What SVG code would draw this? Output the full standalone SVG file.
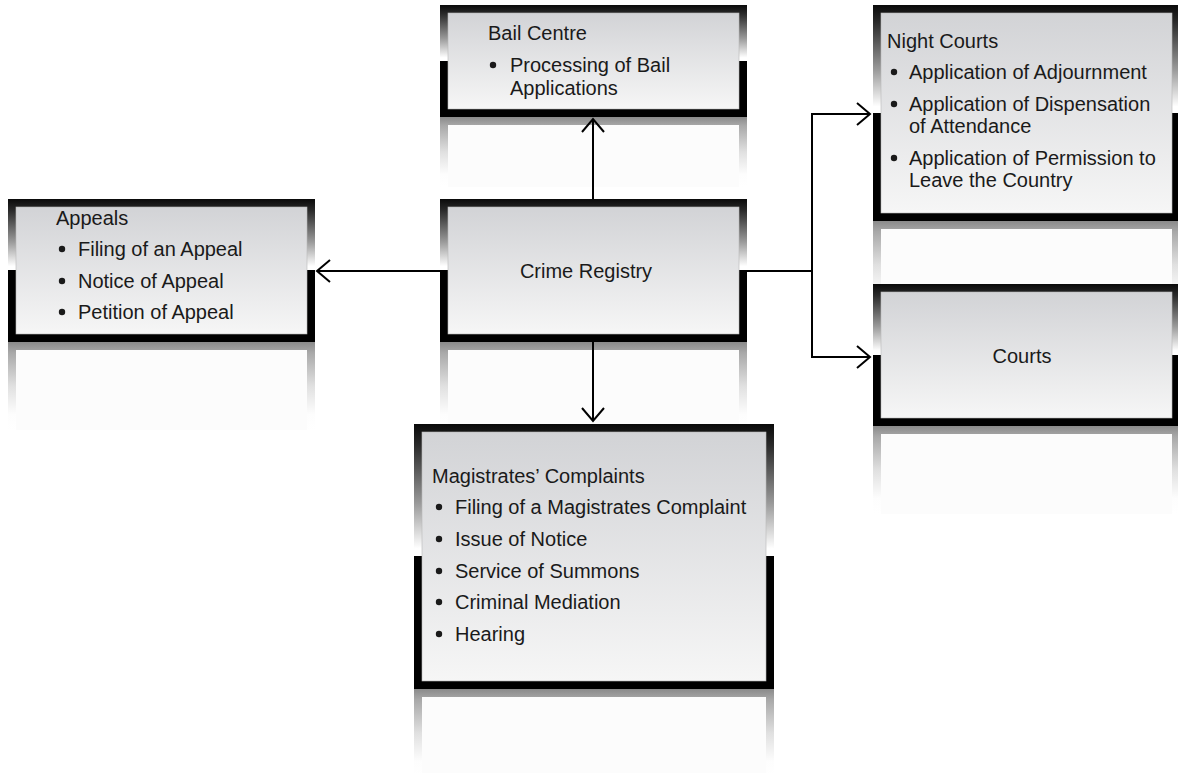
<svg xmlns="http://www.w3.org/2000/svg" width="1178" height="773" viewBox="0 0 1178 773">
<defs>
<linearGradient id="frame" x1="0" y1="0" x2="0" y2="1">
<stop offset="0" stop-color="#0a0a0a"/>
<stop offset="0.08" stop-color="#2a2a2a"/>
<stop offset="0.3" stop-color="#9a9a9a"/>
<stop offset="0.47" stop-color="#ffffff"/>
<stop offset="0.5" stop-color="#ffffff"/>
<stop offset="0.5" stop-color="#000000"/>
<stop offset="1" stop-color="#000000"/>
</linearGradient>
<linearGradient id="fill" x1="0" y1="0" x2="0" y2="1">
<stop offset="0" stop-color="#d2d3d6"/>
<stop offset="1" stop-color="#f6f6f6"/>
</linearGradient>
<linearGradient id="rframe" x1="0" y1="0" x2="0" y2="1">
<stop offset="0" stop-color="#8a8a8a"/>
<stop offset="0.12" stop-color="#a8a8a8"/>
<stop offset="0.5" stop-color="#e0e0e0"/>
<stop offset="0.82" stop-color="#fdfdfd"/>
<stop offset="1" stop-color="#ffffff"/>
</linearGradient>
<marker id="arr" markerUnits="userSpaceOnUse" markerWidth="30" markerHeight="30" refX="14" refY="12" orient="auto" viewBox="0 0 30 30">
<path d="M1,1 L14,12 L1,23" fill="none" stroke="#000" stroke-width="2"/>
</marker>
<style>
.fr{fill:url(#frame)}
.in{fill:url(#fill);stroke:#b8b8b8;stroke-width:0.6}
.rf{fill:url(#rframe)}
.ri{fill:#fcfcfc}
text{font-family:"Liberation Sans",Arial,sans-serif;font-size:20px;fill:#1a1a1a}
.c{text-anchor:middle}
.b{fill:#1a1a1a}
.cn{fill:none;stroke:#000;stroke-width:2}
</style>
</defs>
<rect width="1178" height="773" fill="#fff"/>

<g id="bail-centre">
<rect class="rf" x="440" y="117" width="307" height="70"/>
<rect class="ri" x="448" y="125" width="291" height="62"/>
<rect class="fr" x="440" y="5" width="307" height="112"/>
<rect class="in" x="448" y="13" width="291" height="96"/>
<text x="488" y="40">Bail Centre</text>
<circle class="b" cx="493" cy="65" r="3.2"/>
<text x="510" y="72">Processing of Bail</text>
<text x="510" y="95">Applications</text>
</g>

<g id="appeals">
<rect class="rf" x="8" y="342" width="307" height="88"/>
<rect class="ri" x="16" y="350" width="291" height="80"/>
<rect class="fr" x="8" y="199" width="307" height="143"/>
<rect class="in" x="16" y="207" width="291" height="127"/>
<text x="56" y="225">Appeals</text>
<circle class="b" cx="62" cy="249" r="3.2"/>
<text x="78" y="256">Filing of an Appeal</text>
<circle class="b" cx="62" cy="281" r="3.2"/>
<text x="78" y="288">Notice of Appeal</text>
<circle class="b" cx="62" cy="312" r="3.2"/>
<text x="78" y="319">Petition of Appeal</text>
</g>

<g id="crime-registry">
<rect class="rf" x="440" y="342" width="307" height="88"/>
<rect class="ri" x="448" y="350" width="291" height="80"/>
<rect class="fr" x="440" y="199" width="307" height="143"/>
<rect class="in" x="448" y="207" width="291" height="127"/>
<text class="c" x="586" y="278">Crime Registry</text>
</g>

<g id="night-courts">
<rect class="rf" x="873" y="221" width="307" height="88"/>
<rect class="ri" x="881" y="229" width="291" height="80"/>
<rect class="fr" x="873" y="5" width="307" height="216"/>
<rect class="in" x="881" y="13" width="291" height="200"/>
<text x="887" y="48">Night Courts</text>
<circle class="b" cx="894" cy="72" r="3.2"/>
<text x="909" y="79">Application of Adjournment</text>
<circle class="b" cx="894" cy="104" r="3.2"/>
<text x="909" y="111">Application of Dispensation</text>
<text x="909" y="133">of Attendance</text>
<circle class="b" cx="894" cy="158" r="3.2"/>
<text x="909" y="165">Application of Permission to</text>
<text x="909" y="187">Leave the Country</text>
</g>

<g id="courts">
<rect class="rf" x="873" y="426" width="307" height="88"/>
<rect class="ri" x="881" y="434" width="291" height="80"/>
<rect class="fr" x="873" y="284" width="307" height="142"/>
<rect class="in" x="881" y="292" width="291" height="126"/>
<text class="c" x="1022" y="363">Courts</text>
</g>

<g id="magistrates-complaints">
<rect class="rf" x="414" y="689" width="360" height="88"/>
<rect class="ri" x="422" y="697" width="344" height="80"/>
<rect class="fr" x="414" y="424" width="360" height="265"/>
<rect class="in" x="422" y="432" width="344" height="249"/>
<text x="432" y="483">Magistrates’ Complaints</text>
<circle class="b" cx="439" cy="507" r="3.2"/>
<text x="455" y="514">Filing of a Magistrates Complaint</text>
<circle class="b" cx="439" cy="539" r="3.2"/>
<text x="455" y="546">Issue of Notice</text>
<circle class="b" cx="439" cy="571" r="3.2"/>
<text x="455" y="578">Service of Summons</text>
<circle class="b" cx="439" cy="602" r="3.2"/>
<text x="455" y="609">Criminal Mediation</text>
<circle class="b" cx="439" cy="634" r="3.2"/>
<text x="455" y="641">Hearing</text>
</g>

<g id="connectors">
<path class="cn" d="M593,199 L593,119" marker-end="url(#arr)"/>
<path class="cn" d="M440,271 L317,271" marker-end="url(#arr)"/>
<path class="cn" d="M593,342 L593,421" marker-end="url(#arr)"/>
<path class="cn" d="M747,271 L812,271 L812,114 L870,114" marker-end="url(#arr)"/>
<path class="cn" d="M812,271 L812,357 L870,357" marker-end="url(#arr)"/>
</g>
</svg>
